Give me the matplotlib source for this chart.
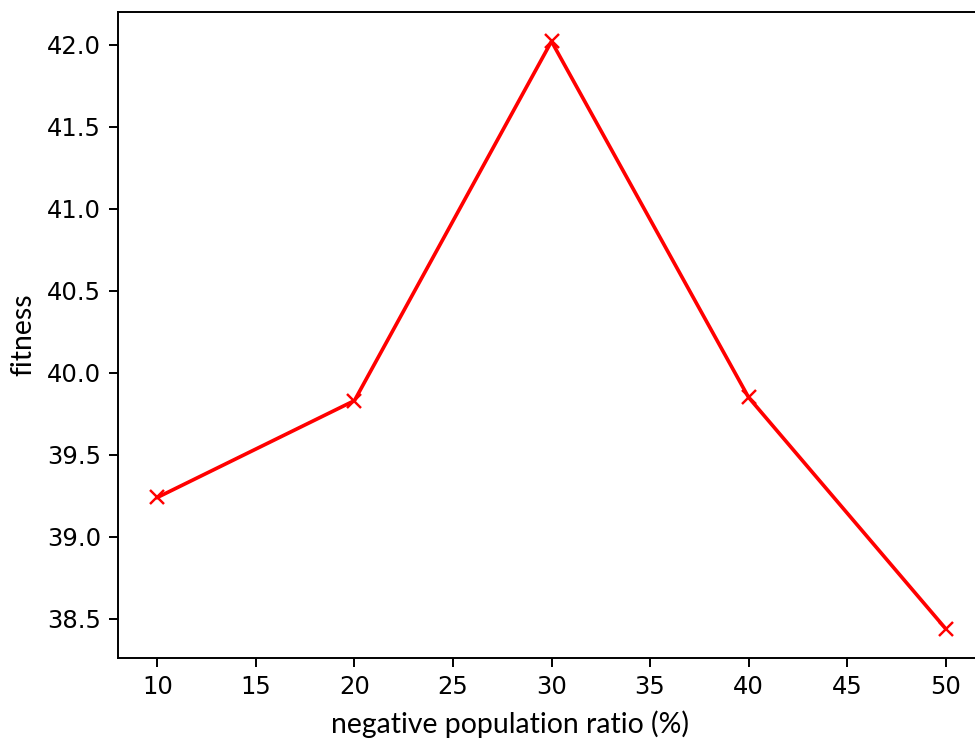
import matplotlib
matplotlib.use('Agg')
import matplotlib.pyplot as plt

ratio   = [10, 20, 30, 40, 50]
fitness = [39.24, 39.83, 42.02, 39.85, 38.44]

plt.rcParams['font.family'] = ['DejaVu Sans']

dpi = 175
fig = plt.figure(figsize=(975 / dpi, 740 / dpi), dpi=dpi)
# axes run past the right edge like in the reference screenshot
ax = fig.add_axes([118 / 975, 82 / 740, 867 / 975, 646 / 740])

ax.plot(ratio, fitness, color='r', marker='x')

ax.set_xlabel('negative population ratio (%)', family=['Lato', 'DejaVu Sans'], fontsize=11.7)
ax.set_ylabel('fitness', family=['Lato', 'DejaVu Sans'], fontsize=11.7)
ax.xaxis.label.set_va('baseline')
ax.yaxis.label.set_va('baseline')
ax.xaxis.set_label_coords(0.452, -0.116)
ax.yaxis.set_label_coords(-0.1, 0.5)

fig.savefig('out.png', dpi=dpi)
